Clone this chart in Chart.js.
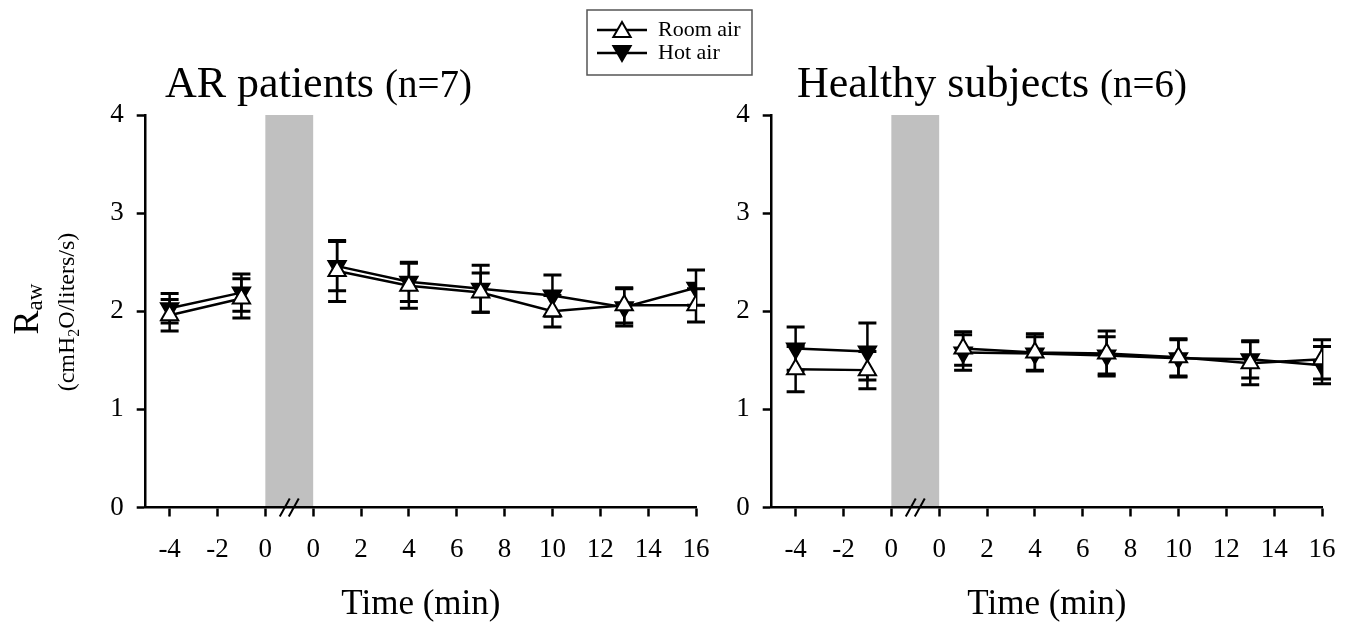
<!DOCTYPE html>
<html>
<head>
<meta charset="utf-8">
<script src="https://cdn.jsdelivr.net/npm/chart.js@4.4.1/dist/chart.umd.min.js"></script>
<style>
  html, body { margin: 0; padding: 0; background: #fff; }
  #wrap { position: relative; width: 1353px; height: 627px; }
  #wrap canvas { position: absolute; left: 0; top: 0; }
</style>
</head>
<body>
<div id="wrap">
  <canvas id="arChart" width="1353" height="627"></canvas>
  <canvas id="hsChart" width="1353" height="627"></canvas>
</div>
<script>
// sampling times (min); negative = before exposure, positive = after
const times = [-4, -1, 1, 4, 7, 10, 13, 16];
const xTickLabels = ["-4", "-2", "0", "0", "2", "4", "6", "8", "10", "12", "14", "16"];
const yTicks = [0, 1, 2, 3, 4];

// AR patients (n=7)
const arRoom = [1.96, 2.13, 2.41, 2.26, 2.19, 2.00, 2.06, 2.06];
const arRoomSd = [0.16, 0.20, 0.31, 0.23, 0.20, 0.16, 0.18, 0.17];
const arHot = [2.03, 2.19, 2.46, 2.30, 2.23, 2.16, 2.04, 2.24];
const arHotSd = [0.15, 0.19, 0.25, 0.20, 0.24, 0.21, 0.19, 0.18];

// Healthy subjects (n=6)
const hsRoom = [1.41, 1.40, 1.62, 1.58, 1.57, 1.53, 1.47, 1.51];
const hsRoomSd = [0.23, 0.19, 0.17, 0.19, 0.23, 0.19, 0.22, 0.20];
const hsHot = [1.62, 1.59, 1.58, 1.57, 1.55, 1.52, 1.51, 1.45];
const hsHotSd = [0.22, 0.29, 0.18, 0.17, 0.19, 0.19, 0.19, 0.19];

const serif = "'Liberation Serif', 'Times New Roman', Times, serif";

// the axis has a break between the two zeros: shift post-exposure times by one tick step
const toPos = (t) => (t < 0 ? t : t + 2);
const xTickPos = xTickLabels.map((_, i) => -4 + 2 * i);

function buildPoints(vals, sds) {
  const pts = [];
  times.forEach((t, i) => {
    if (i > 0 && times[i - 1] < 0 && t > 0) pts.push({ x: 1, y: null, sd: 0 }); // gap in the line
    pts.push({ x: toPos(t), y: vals[i], sd: sds[i] });
  });
  return pts;
}

// gray exposure band, drawn before the axes so the axis line stays on top
const bandPlugin = {
  id: "band",
  beforeDraw(chart) {
    const { ctx, chartArea } = chart;
    const x = chart.scales.x;
    const l = x.getPixelForValue(0);
    const r = x.getPixelForValue(2);
    ctx.save();
    ctx.fillStyle = "#c0c0c0";
    ctx.fillRect(l, chartArea.top, r - l, chartArea.bottom - chartArea.top);
    ctx.restore();
  },
};

const errorBars = {
  id: "errorBars",
  beforeDatasetsDraw(chart) {
    const ctx = chart.ctx;
    const y = chart.scales.y;
    ctx.save();
    ctx.strokeStyle = "#000";
    chart.data.datasets.forEach((ds, di) => {
      const meta = chart.getDatasetMeta(di);
      ds.data.forEach((p, i) => {
        if (p.y == null) return;
        const px = meta.data[i].x;
        const top = y.getPixelForValue(p.y + p.sd);
        const bot = y.getPixelForValue(p.y - p.sd);
        ctx.lineWidth = 2.5;
        ctx.beginPath();
        ctx.moveTo(px, top);
        ctx.lineTo(px, bot);
        ctx.stroke();
        ctx.lineWidth = 3;
        ctx.beginPath();
        ctx.moveTo(px - 9, top);
        ctx.lineTo(px + 9, top);
        ctx.moveTo(px - 9, bot);
        ctx.lineTo(px + 9, bot);
        ctx.stroke();
      });
    });
    ctx.restore();
  },
};

function drawTriangle(ctx, x, y, r, down, fill) {
  const s = down ? -1 : 1;
  ctx.beginPath();
  ctx.moveTo(x, y - s * r);
  ctx.lineTo(x + r * 0.866, y + s * r / 2);
  ctx.lineTo(x - r * 0.866, y + s * r / 2);
  ctx.closePath();
  ctx.fillStyle = fill;
  ctx.fill();
  ctx.lineWidth = 2;
  ctx.strokeStyle = "#000";
  ctx.stroke();
}

function textPlugin(opts) {
  return {
    id: "texts",
    afterDraw(chart) {
      const { ctx, chartArea } = chart;
      const x = chart.scales.x;
      ctx.save();
      ctx.fillStyle = "#000";
      ctx.textBaseline = "alphabetic";

      // panel title: big words, slightly smaller "(n=..)"
      ctx.textAlign = "left";
      ctx.font = "44px " + serif;
      ctx.fillText(opts.title, opts.titleX, 97);
      const w = ctx.measureText(opts.title + " ").width;
      ctx.font = "39px " + serif;
      ctx.fillText(opts.titleN, opts.titleX + w, 97);

      // axis break marks
      const bx = x.getPixelForValue(1);
      const by = chartArea.bottom;
      ctx.strokeStyle = "#000";
      ctx.lineWidth = 2;
      [-4.5, 4.5].forEach((d) => {
        ctx.beginPath();
        ctx.moveTo(bx + d - 5, by + 9);
        ctx.lineTo(bx + d + 5, by - 9);
        ctx.stroke();
      });

      // x axis title
      ctx.textAlign = "center";
      ctx.font = "35px " + serif;
      ctx.fillText("Time (min)", (chartArea.left + chartArea.right) / 2, 614);

      if (opts.yLabel) {
        // R_aw, rotated
        ctx.save();
        ctx.translate(38, 309);
        ctx.rotate(-Math.PI / 2);
        ctx.textAlign = "left";
        ctx.font = "36px " + serif;
        const wR = ctx.measureText("R").width;
        ctx.font = "23px " + serif;
        const wA = ctx.measureText("aw").width;
        const x0 = -(wR + wA) / 2;
        ctx.font = "36px " + serif;
        ctx.fillText("R", x0, 0);
        ctx.font = "23px " + serif;
        ctx.fillText("aw", x0 + wR, 4);
        ctx.restore();

        // (cmH2O/liters/s), rotated
        ctx.save();
        ctx.translate(74, 312);
        ctx.rotate(-Math.PI / 2);
        ctx.textAlign = "left";
        const parts = [["(cmH", 24, 0], ["2", 16, 5], ["O/liters/s)", 24, 0]];
        let total = 0;
        parts.forEach(([t, s]) => { ctx.font = s + "px " + serif; total += ctx.measureText(t).width; });
        let cx = -total / 2;
        parts.forEach(([t, s, dy]) => {
          ctx.font = s + "px " + serif;
          ctx.fillText(t, cx, dy);
          cx += ctx.measureText(t).width;
        });
        ctx.restore();
      }

      if (opts.legend) {
        ctx.strokeStyle = "#555";
        ctx.lineWidth = 1.5;
        ctx.strokeRect(587, 10, 165, 65);
        const rows = [["Room air", 30, false, "#fff"], ["Hot air", 53, true, "#000"]];
        rows.forEach(([label, ly, down, fill]) => {
          ctx.strokeStyle = "#000";
          ctx.lineWidth = 2.5;
          ctx.beginPath();
          ctx.moveTo(597, ly);
          ctx.lineTo(647, ly);
          ctx.stroke();
          drawTriangle(ctx, 622, ly + (down ? -2 : 2), 10, down, fill);
          ctx.fillStyle = "#000";
          ctx.font = "22px " + serif;
          ctx.textAlign = "left";
          ctx.textBaseline = "middle";
          ctx.fillText(label, 658, ly);
        });
      }
      ctx.restore();
    },
  };
}

function makeChart(id, room, roomSd, hot, hotSd, pad, yWidth, opts) {
  const axisFont = { family: serif, size: 27 };
  return new Chart(document.getElementById(id), {
    type: "line",
    data: {
      datasets: [
        {
          label: "Room air",
          data: buildPoints(room, roomSd),
          order: 0,
          borderColor: "#000",
          borderWidth: 2.5,
          pointStyle: "triangle",
          pointRadius: 10,
          pointBorderWidth: 2,
          pointBorderColor: "#000",
          pointBackgroundColor: "#fff",
        },
        {
          label: "Hot air",
          data: buildPoints(hot, hotSd),
          order: 1,
          borderColor: "#000",
          borderWidth: 2.5,
          pointStyle: "triangle",
          pointRotation: 180,
          pointRadius: 10,
          pointBorderWidth: 2,
          pointBorderColor: "#000",
          pointBackgroundColor: "#000",
        },
      ],
    },
    options: {
      responsive: false,
      animation: false,
      events: [],
      spanGaps: false,
      layout: { padding: pad },
      plugins: { legend: { display: false }, tooltip: { enabled: false } },
      scales: {
        x: {
          type: "linear",
          min: -5,
          max: 18,
          afterBuildTicks: (scale) => {
            scale.ticks = xTickPos.map((v) => ({ value: v }));
          },
          afterFit: (scale) => {
            scale.height = 119.5;
          },
          ticks: {
            callback: (v, i) => xTickLabels[i],
            font: axisFont,
            color: "#000",
            padding: 17,
            autoSkip: false,
            maxRotation: 0,
            minRotation: 0,
          },
          grid: { drawOnChartArea: false, drawTicks: true, tickLength: 9, tickWidth: 2.5, tickColor: "#000" },
          border: { display: true, color: "#000", width: 2.5 },
        },
        y: {
          min: 0,
          max: 4,
          afterBuildTicks: (scale) => {
            scale.ticks = yTicks.map((v) => ({ value: v }));
          },
          afterFit: (scale) => {
            scale.width = yWidth;
          },
          ticks: { font: axisFont, color: "#000", padding: 13 },
          grid: { drawOnChartArea: false, drawTicks: true, tickLength: 9, tickWidth: 2.5, tickColor: "#000" },
          border: { display: true, color: "#000", width: 2.5 },
        },
      },
    },
    plugins: [bandPlugin, errorBars, textPlugin(opts)],
  });
}

makeChart("arChart", arRoom, arRoomSd, arHot, arHotSd,
  { left: 0, right: 657, top: 115, bottom: 0 }, 145.7,
  { title: "AR patients", titleN: "(n=7)", titleX: 165, yLabel: true, legend: true });

makeChart("hsChart", hsRoom, hsRoomSd, hsHot, hsHotSd,
  { left: 640, right: 31, top: 115, bottom: 0 }, 131.7,
  { title: "Healthy subjects", titleN: "(n=6)", titleX: 797, yLabel: false, legend: false });
</script>
</body>
</html>
